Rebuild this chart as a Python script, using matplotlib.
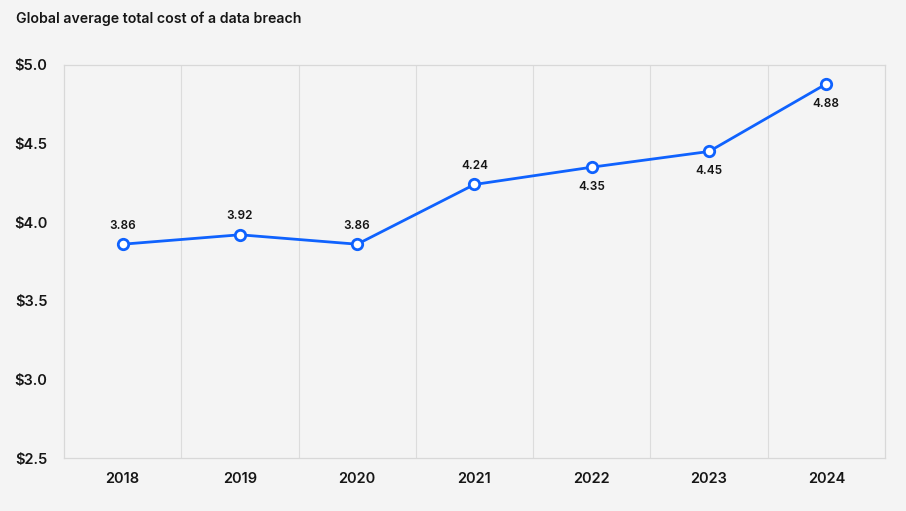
import matplotlib.pyplot as plt

# Datos del gráfico
anios = ['2018', '2019', '2020', '2021', '2022', '2023', '2024']
costo = [3.86, 3.92, 3.86, 4.24, 4.35, 4.45, 4.88]
etiquetas = ['3.86', '3.92', '3.86', '4.24', '4.35', '4.45', '4.88']
ticks_y = [2.5, 3.0, 3.5, 4.0, 4.5, 5.0]
titulo = 'Global average total cost of a data breach'

plt.rcParams['font.family'] = ['Inter', 'DejaVu Sans']

fondo = '#f4f4f4'
azul = '#0f62fe'
texto = '#161616'

fig = plt.figure(figsize=(9.06, 5.11), dpi=100, facecolor=fondo)
ax = fig.add_axes([0.0706, 0.1037, 0.9062, 0.7691])
ax.set_facecolor(fondo)

x = list(range(len(anios)))
ax.plot(x, costo, color=azul, linewidth=2.0, marker='o', markersize=7.5,
        markerfacecolor='white', markeredgecolor=azul, markeredgewidth=2.0,
        zorder=3)

# etiquetas: arriba los primeros cuatro, abajo el resto
for i, (v, t) in enumerate(zip(costo, etiquetas)):
    if i < 4:
        ax.annotate(t, (i, v), xytext=(0, 9), textcoords='offset points',
                    ha='center', va='bottom', fontsize=8.5, fontweight='semibold',
                    color=texto)
    else:
        ax.annotate(t, (i, v), xytext=(0, -10), textcoords='offset points',
                    ha='center', va='top', fontsize=8.5, fontweight='semibold',
                    color=texto)

ax.set_xlim(-0.5, len(anios) - 0.5)
ax.set_ylim(2.5, 5.0)
ax.set_xticks(x)
ax.set_xticklabels(anios)
ax.set_yticks(ticks_y)
ax.set_yticklabels(['$%.1f' % v for v in ticks_y])
ax.tick_params(length=0, labelsize=10.5, colors=texto, pad=12)
ax.tick_params(axis='x', pad=10)
for lab in ax.get_xticklabels() + ax.get_yticklabels():
    lab.set_fontweight('semibold')

# lineas verticales entre categorias
for g in range(len(anios) - 1):
    ax.axvline(g + 0.5, color='#dcdcdc', linewidth=0.8, zorder=1)

for s in ax.spines.values():
    s.set_color('#d8d8d8')
    s.set_linewidth(0.9)

fig.text(16 / 906, 1 - 19 / 511, titulo, ha='left', va='center',
         fontsize=10.2, fontweight='semibold', color=texto)

fig.savefig('out.png', dpi=100, facecolor=fondo)
